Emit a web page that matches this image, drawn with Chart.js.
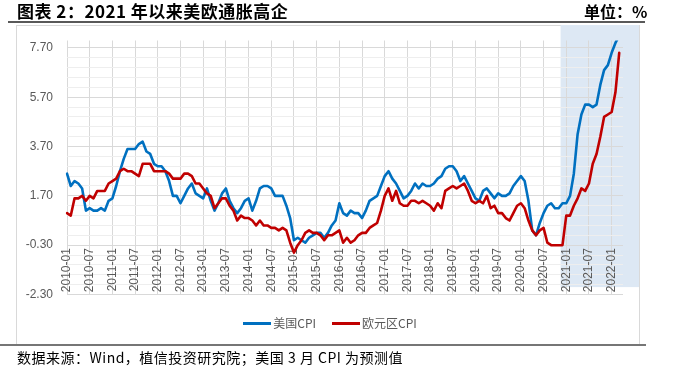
<!DOCTYPE html>
<html>
<head>
<meta charset="utf-8">
<script src="https://cdn.jsdelivr.net/npm/chart.js@4.4.1/dist/chart.umd.min.js"></script>
<style>
  html, body { margin: 0; padding: 0; background: #fff; }
  body { width: 678px; height: 367px; position: relative; overflow: hidden; font-family: "Noto Sans CJK SC", sans-serif; }
  #box { position: absolute; left: 16px; top: 25px; width: 624px; height: 321px; border: 1px solid #d9d9d9; border-bottom: none; box-sizing: border-box; }
  #chartWrap { position: absolute; left: 0; top: 0; width: 678px; height: 367px; }
  #title { position: absolute; left: 17px; top: 1px; font-size: 17px; font-weight: bold; color: #000; letter-spacing: 0.5px; line-height: 20px; white-space: nowrap; }
  #unit { position: absolute; left: 584px; top: 1px; font-size: 16px; font-weight: bold; color: #000; line-height: 20px; white-space: nowrap; }
  #rule1 { position: absolute; left: 8px; top: 21px; width: 637px; height: 2px; background: #595959; }
  #rule2 { position: absolute; left: 0; top: 344px; width: 646px; height: 2px; background: #767676; }
  #foot { position: absolute; left: 17px; top: 348px; font-size: 14px; line-height: 18px; letter-spacing: 0.5px; color: #000; white-space: nowrap; }
  #legend { position: absolute; left: 0; top: 315px; width: 660px; display: flex; justify-content: center; font-size: 12px; line-height: 16px; color: #595959; }
  #legend .item { display: flex; align-items: center; margin: 0 8px; }
  #legend .swatch { display: inline-block; width: 28px; height: 3px; margin-right: 2px; }
</style>
</head>
<body>
<div id="box"></div>
<div id="chartWrap"><canvas id="c" width="678" height="367"></canvas></div>
<div id="title">图表 2：2021 年以来美欧通胀高企</div>
<div id="unit">单位：%</div>
<div id="rule1"></div>
<div id="legend"></div>
<div id="rule2"></div>
<div id="foot">数据来源：Wind，植信投资研究院；美国 3 月 CPI 为预测值</div>
<script>
// ---- data ----
const startYear = 2010;
const months = [];
for (let y = 2010; y <= 2022; y++) {
  for (let m = 1; m <= 12; m++) {
    if (y === 2022 && m > 4) break;
    months.push(y + '-' + String(m).padStart(2, '0'));
  }
}
// US CPI YoY (%), 2010-01 ... 2022-03 (2022-03 forecast), 2022-04 empty
const usCPI = [
  2.6, 2.1, 2.3, 2.2, 2.0, 1.1, 1.2, 1.1, 1.1, 1.2, 1.1, 1.5,
  1.6, 2.1, 2.7, 3.2, 3.6, 3.6, 3.6, 3.8, 3.9, 3.5, 3.4, 3.0,
  2.9, 2.9, 2.7, 2.3, 1.7, 1.7, 1.4, 1.7, 2.0, 2.2, 1.8, 1.7,
  1.6, 2.0, 1.5, 1.1, 1.4, 1.8, 2.0, 1.5, 1.2, 1.0, 1.2, 1.5,
  1.6, 1.1, 1.5, 2.0, 2.1, 2.1, 2.0, 1.7, 1.7, 1.7, 1.3, 0.8,
  -0.1, 0.0, -0.1, -0.2, 0.0, 0.1, 0.2, 0.2, 0.0, 0.2, 0.5, 0.7,
  1.4, 1.0, 0.9, 1.1, 1.0, 1.0, 0.8, 1.1, 1.5, 1.6, 1.7, 2.1,
  2.5, 2.7, 2.4, 2.2, 1.9, 1.6, 1.7, 1.9, 2.2, 2.0, 2.2, 2.1,
  2.1, 2.2, 2.4, 2.5, 2.8, 2.9, 2.9, 2.7, 2.3, 2.5, 2.2, 1.9,
  1.6, 1.5, 1.9, 2.0, 1.8, 1.6, 1.8, 1.7, 1.7, 1.8, 2.1, 2.3,
  2.5, 2.3, 1.5, 0.3, 0.1, 0.6, 1.0, 1.3, 1.4, 1.2, 1.2, 1.4,
  1.4, 1.7, 2.6, 4.2, 5.0, 5.4, 5.4, 5.3, 5.4, 6.2, 6.8, 7.0,
  7.5, 7.9, 8.2, null
];
// Euro area HICP YoY (%)
const euroCPI = [
  1.0, 0.9, 1.6, 1.6, 1.7, 1.5, 1.7, 1.6, 1.9, 1.9, 1.9, 2.2,
  2.3, 2.4, 2.7, 2.8, 2.7, 2.7, 2.6, 2.5, 3.0, 3.0, 3.0, 2.7,
  2.7, 2.7, 2.7, 2.6, 2.4, 2.4, 2.4, 2.6, 2.6, 2.5, 2.2, 2.2,
  2.0, 1.8, 1.7, 1.2, 1.4, 1.6, 1.6, 1.3, 1.1, 0.7, 0.9, 0.8,
  0.8, 0.7, 0.5, 0.7, 0.5, 0.5, 0.4, 0.4, 0.3, 0.4, 0.3, -0.2,
  -0.6, -0.3, -0.1, 0.2, 0.3, 0.2, 0.2, 0.1, -0.1, 0.1, 0.1, 0.2,
  0.3, -0.2, 0.0, -0.2, -0.1, 0.1, 0.2, 0.2, 0.4, 0.5, 0.6, 1.1,
  1.7, 2.0, 1.5, 1.9, 1.4, 1.3, 1.3, 1.5, 1.5, 1.4, 1.5, 1.4,
  1.3, 1.1, 1.4, 1.2, 1.9, 2.0, 2.1, 2.0, 2.1, 2.2, 1.9, 1.5,
  1.4, 1.5, 1.4, 1.7, 1.2, 1.3, 1.0, 1.0, 0.8, 0.7, 1.0, 1.3,
  1.4, 1.2, 0.7, 0.3, 0.1, 0.3, 0.4, -0.2, -0.3, -0.3, -0.3, -0.3,
  0.9, 0.9, 1.3, 1.6, 2.0, 1.9, 2.2, 3.0, 3.4, 4.1, 4.9, 5.0,
  5.1, 5.9, 7.5, null
];
const seriesNames = ['美国CPI', '欧元区CPI'];
const seriesColors = ['#0070c0', '#c00000'];
const yTickLabels = ['-2.30', '-0.30', '1.70', '3.70', '5.70', '7.70'];
const yMin = -2.3, yMax = 8.0;
const shadeStart = '2020-12';
const shadeBottomValue = -2.0;

// ---- config helpers ----
const BOX = { left: 16, top: 25, right: 639 };
const majorVals = yTickLabels.map(parseFloat);
const yGridVals = [];
for (let k = 0; k <= 25; k++) yGridVals.push(Math.round((yMin + 0.4 * k) * 100) / 100);
const isMajor = v => majorVals.some(m => Math.abs(m - v) < 1e-6);
const showLabel = l => l && (l.endsWith('-01') || l.endsWith('-07'));

const shadePlugin = {
  id: 'shade',
  beforeDraw(chart) {
    const xs = chart.scales.x, ys = chart.scales.y, ctx = chart.ctx;
    const idx = months.indexOf(shadeStart);
    const step = xs.getPixelForValue(1) - xs.getPixelForValue(0);
    const left = xs.getPixelForValue(idx) - step / 2;
    const bottom = ys.getPixelForValue(shadeBottomValue);
    ctx.save();
    ctx.fillStyle = '#dde8f4';
    ctx.fillRect(left, BOX.top, BOX.right - left, bottom - BOX.top);
    ctx.restore();
  }
};

const chart = new Chart(document.getElementById('c'), {
  type: 'line',
  data: {
    labels: months,
    datasets: [
      { label: seriesNames[0], data: usCPI, borderColor: seriesColors[0], backgroundColor: seriesColors[0], order: 1 },
      { label: seriesNames[1], data: euroCPI, borderColor: seriesColors[1], backgroundColor: seriesColors[1], order: 0 }
    ]
  },
  options: {
    responsive: false,
    animation: false,
    devicePixelRatio: 1,
    elements: {
      line: { borderWidth: 2.6, tension: 0, fill: false, borderJoinStyle: 'round', borderCapStyle: 'round' },
      point: { radius: 0, hoverRadius: 0 }
    },
    layout: { padding: { left: 17, right: 55, top: 40.5, bottom: 72.5 } },
    plugins: { legend: { display: false }, tooltip: { enabled: false } },
    scales: {
      x: {
        type: 'category',
        position: { y: -0.3 },
        offset: false,
        border: { display: false },
        grid: {
          drawTicks: false,
          color: ctx => (ctx.index != null && showLabel(months[ctx.index])) ? '#d9d9d9' : 'rgba(0,0,0,0)',
          lineWidth: 1
        },
        ticks: {
          autoSkip: false,
          maxRotation: 90,
          minRotation: 90,
          padding: 3,
          color: '#595959',
          font: { size: 12, family: 'Liberation Sans' },
          callback: function (v) { const l = this.getLabelForValue(v); return showLabel(l) ? l : ''; }
        }
      },
      y: {
        min: yMin,
        max: yMax,
        bounds: 'data',
        afterBuildTicks: s => { s.ticks = yGridVals.map(v => ({ value: v })); },
        afterFit: s => { s.width = 50; },
        border: { display: false },
        grid: {
          drawTicks: false,
          color: ctx => (ctx.tick && isMajor(ctx.tick.value)) ? '#d9d9d9' : '#eeeeee',
          lineWidth: 1
        },
        ticks: {
          autoSkip: false,
          padding: 14,
          color: '#595959',
          font: { size: 12, family: 'Liberation Sans' },
          callback: v => isMajor(v) ? v.toFixed(2) : ''
        }
      }
    }
  },
  plugins: [shadePlugin]
});

// legend built from the chart's datasets
const lg = document.getElementById('legend');
chart.data.datasets.forEach(ds => {
  const item = document.createElement('span');
  item.className = 'item';
  const sw = document.createElement('span');
  sw.className = 'swatch';
  sw.style.background = ds.borderColor;
  const tx = document.createElement('span');
  tx.textContent = ds.label;
  item.appendChild(sw); item.appendChild(tx);
  lg.appendChild(item);
});
</script>
</body>
</html>
